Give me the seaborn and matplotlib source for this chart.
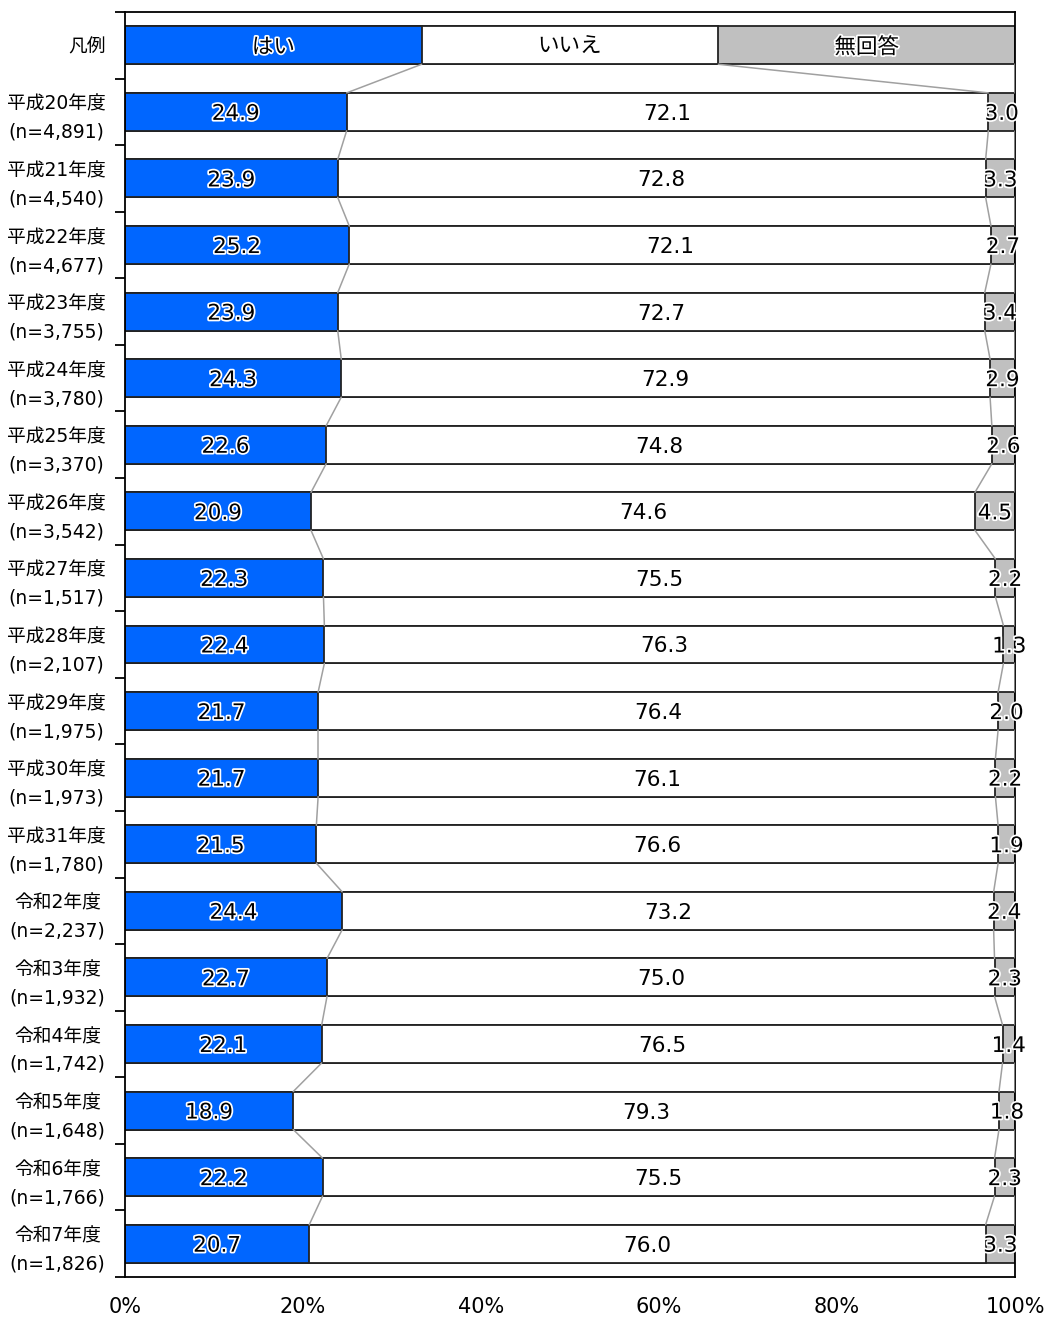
import matplotlib
matplotlib.use('Agg')
import matplotlib.pyplot as plt
import matplotlib.patheffects as pe
import numpy as np
import pandas as pd
import seaborn as sns

years = ['平成20年度', '平成21年度', '平成22年度', '平成23年度', '平成24年度', '平成25年度',
         '平成26年度', '平成27年度', '平成28年度', '平成29年度', '平成30年度', '平成31年度',
         '令和2年度', '令和3年度', '令和4年度', '令和5年度', '令和6年度', '令和7年度']
n_counts = ['4,891', '4,540', '4,677', '3,755', '3,780', '3,370', '3,542', '1,517', '2,107',
            '1,975', '1,973', '1,780', '2,237', '1,932', '1,742', '1,648', '1,766', '1,826']
yes = [24.9, 23.9, 25.2, 23.9, 24.3, 22.6, 20.9, 22.3, 22.4, 21.7, 21.7, 21.5,
       24.4, 22.7, 22.1, 18.9, 22.2, 20.7]
no = [72.1, 72.8, 72.1, 72.7, 72.9, 74.8, 74.6, 75.5, 76.3, 76.4, 76.1, 76.6,
      73.2, 75.0, 76.5, 79.3, 75.5, 76.0]
na = [3.0, 3.3, 2.7, 3.4, 2.9, 2.6, 4.5, 2.2, 1.3, 2.0, 2.2, 1.9,
      2.4, 2.3, 1.4, 1.8, 2.3, 3.3]
legend_names = ['はい', 'いいえ', '無回答']
colors = ['#0066FF', '#FFFFFF', '#C0C0C0']

sns.set_style('white')
plt.rcParams['font.family'] = ['DejaVu Sans', 'Noto Sans CJK JP']
plt.rcParams['text.color'] = 'black'
plt.rcParams['xtick.color'] = 'black'
plt.rcParams['ytick.color'] = 'black'

cats = ['凡例'] + [f'{y}\n(n={n})' for y, n in zip(years, n_counts)]
yes_all = [100 / 3] + yes
no_all = [100 / 3] + no
df = pd.DataFrame({'cat': cats, 'yes': yes_all, 'no': no_all})
df['c1'] = df['yes']
df['c2'] = df['yes'] + df['no']
df['c3'] = 100.0

fig = plt.figure(figsize=(10.53, 13.18), dpi=100)
ax = fig.add_axes([125 / 1053, 1 - 1277 / 1318, 890 / 1053, 1265 / 1318])

bw = 0.57
for col, c in zip(['c3', 'c2', 'c1'], colors[::-1]):
    sns.barplot(data=df, x=col, y='cat', orient='h', color=c, edgecolor='#222222',
                linewidth=1.3, width=bw, saturation=1, ax=ax, zorder=2)

# connector lines between bars
for i in range(len(df) - 1):
    for col in ['c1', 'c2', 'c3']:
        ax.plot([df[col][i], df[col][i + 1]], [i + bw / 2, i + 1 - bw / 2],
                color='#A0A0A0', lw=1.1, zorder=3)

glow = [pe.withStroke(linewidth=2.5, foreground='white')]
for i, r in df.iterrows():
    mids = [r['c1'] / 2, (r['c1'] + r['c2']) / 2, (r['c2'] + 100) / 2]
    if i == 0:
        texts = legend_names
    else:
        texts = [f'{yes[i-1]:.1f}', f'{no[i-1]:.1f}', f'{na[i-1]:.1f}']
    for k, (m, t) in enumerate(zip(mids, texts)):
        ax.text(m, i + 0.03, t, ha='center', va='center', fontsize=15.5, color='black', zorder=5,
                path_effects=None if k == 1 else glow)

ax.set_xlim(0, 100)
ax.set_ylim(len(df) - 0.5, -0.5)
ax.set_xlabel('')
ax.set_ylabel('')
ax.set_xticks(np.arange(0, 101, 20))
ax.set_xticklabels([f'{v}%' for v in range(0, 101, 20)], fontsize=15, color='black')
ax.tick_params(axis='x', direction='inout', length=13, width=1.3, pad=8, colors='black')

ax.set_yticks(np.arange(len(df) + 1) - 0.5)
ax.set_yticklabels([])
ax.set_yticks(np.arange(len(df)), minor=True)
ax.set_yticklabels(cats, minor=True, fontsize=13.5, linespacing=1.6, multialignment='center',
                   color='black')
ax.tick_params(axis='y', which='major', direction='out', length=7, width=1.3, left=True,
               colors='black')
ax.tick_params(axis='y', which='minor', length=0, pad=14, colors='black')

for s in ax.spines.values():
    s.set_visible(True)
    s.set_color('black')
    s.set_linewidth(1.3)

fig.savefig('out.png', dpi=100)
